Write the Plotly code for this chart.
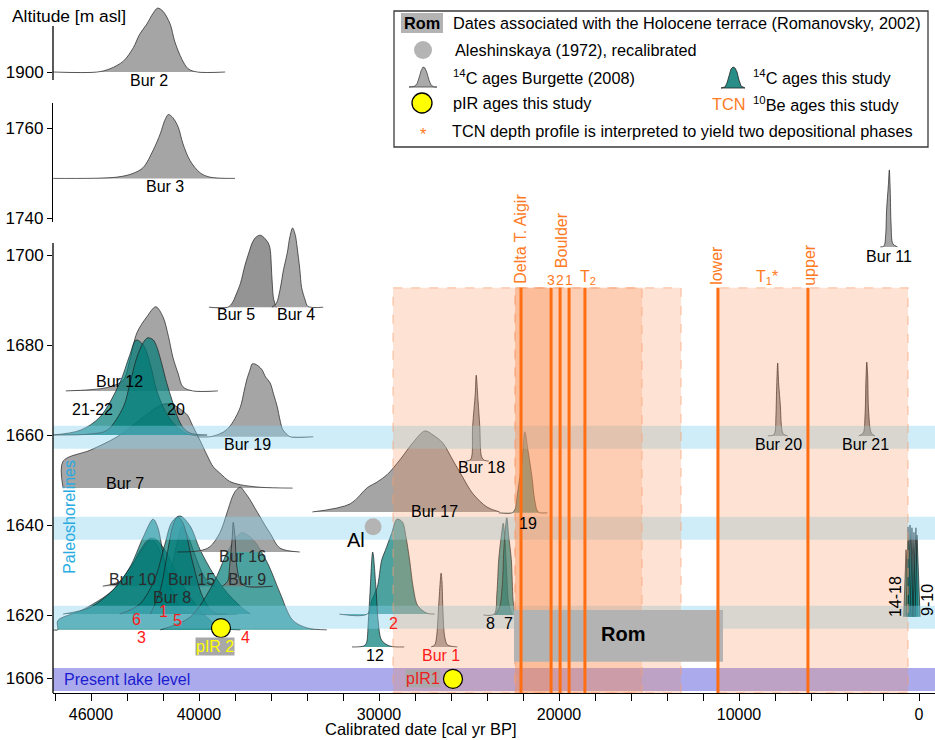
import plotly.graph_objects as go

# ---------------------------------------------------------------
# Calibrated age distributions: age (cal yr BP), relative probability
# (peak = 1) and altitude of the sampled level (m asl)
# ---------------------------------------------------------------

# 14C ages, Burgette (2008)
bur2_age = [48100, 45650, 44950, 44200, 43650, 43300, 42900, 42550, 42300, 42000, 41600, 41350, 40950, 40600, 40100, 38550]
bur2_p = [0, 0, .05, .17, .38, .59, .75, .92, 1, .95, .75, .48, .20, .05, 0, 0]
bur2_alt = 1900.0

bur3_age = [48100, 44550, 43650, 43100, 42550, 42150, 41900, 41700, 41450, 41150, 40900, 40500, 39950, 39400, 38000]
bur3_p = [0, .02, .08, .17, .44, .70, .91, 1, .95, .80, .55, .28, .09, .02, 0]
bur3_alt = 1748.8

bur5_age = [39450, 38400, 38150, 37950, 37700, 37450, 37200, 37050, 36850, 36600, 36400, 36150, 36050, 35950, 35850, 35700]
bur5_p = [0, 0, .06, .17, .33, .58, .78, .89, .97, 1, .97, .89, .81, .42, .11, 0]
bur5_alt = 1688.4

bur4_age = [35950, 35700, 35500, 35300, 35100, 34950, 34800, 34650, 34550, 34400, 34300, 34100, 33950, 33100]
bur4_p = [0, .05, .22, .48, .68, .89, 1, .91, .76, .48, .25, .09, .01, 0]
bur4_alt = 1688.4

bur12_age = [47400, 45100, 44200, 43850, 43450, 42900, 42400, 42000, 41700, 41450, 41150, 40900, 40350, 38950]
bur12_p = [0, .04, .13, .36, .69, .88, 1, .88, .65, .40, .20, .05, 0, 0]
bur12_alt = 1669.8

bur7_age = [47550, 47550, 46050, 44550, 43300, 42350, 41900, 41450, 41050, 40650, 40350, 39950, 39550, 39200, 38850, 38300, 37700, 36600, 34800]
bur7_p = [0, .32, .45, .61, .81, .96, 1, .99, .94, .87, .74, .57, .39, .25, .18, .08, .04, .01, 0]
bur7_alt = 1648.2

bur19_age = [40100, 39400, 38850, 38450, 38100, 37700, 37500, 37350, 37150, 37050, 36900, 36700, 36500, 36300, 36050, 35850, 35650, 35500, 35350, 35100, 34950, 33650]
bur19_p = [0, 0, .04, .10, .21, .41, .62, .78, .93, 1, 1, .97, .92, .82, .74, .58, .41, .23, .10, .03, 0, 0]
bur19_alt = 1659.6

bur17_age = [33700, 31600, 30650, 30100, 29550, 28850, 28100, 27450, 27000, 26450, 25900, 25350, 24800, 24000, 23300]
bur17_p = [0, .10, .30, .37, .46, .64, .86, 1, .95, .85, .64, .43, .23, .06, 0]
bur17_alt = 1642.9

bur18_age = [25150, 24900, 24800, 24650, 24600, 24500, 24400, 24300, 24150, 23900]
bur18_p = [0, .02, .40, .79, 1, .71, .40, .05, .01, 0]
bur18_alt = 1654.2

bur1_age = [27100, 26900, 26800, 26700, 26600, 26550, 26500, 26450, 26350, 26200, 25650]
bur1_p = [0, .03, .14, .50, .88, 1, .88, .50, .14, .03, 0]
bur1_alt = 1612.9

bur16_age = [41200, 39950, 39400, 38850, 38450, 38150, 37950, 37700, 37450, 37150, 36900, 36600, 36350, 36050, 35500, 34400]
bur16_p = [0, .02, .08, .29, .60, .85, .95, 1, .92, .80, .68, .54, .42, .29, .06, 0]
bur16_alt = 1634.0

bur10_age = [45350, 44400, 43850, 43300, 42700, 42300, 41900, 41400, 40950]
bur10_p = [0, .10, .31, .73, 1, .83, .42, .10, 0]
bur10_alt = 1626.4

bur15_age = [42150, 41600, 41200, 40950, 40600, 40200, 39650, 39100]
bur15_p = [0, .25, .75, 1, .83, .50, .13, 0]
bur15_alt = 1626.4

bur9_age = [38700, 38400, 38300, 38150, 38100, 38000, 37900, 37700, 37400, 35900]
bur9_p = [0, .08, .31, .78, 1, .78, .31, .08, 0, 0]
bur9_alt = 1626.4

bur20_age = [8400, 8100, 8000, 7950, 7900, 7850, 7800, 7700, 7650, 7550, 7300]
bur20_p = [0, .01, .05, .26, .73, 1, .73, .41, .16, .03, 0]
bur20_alt = 1659.8

bur21_age = [3350, 3100, 3000, 2950, 2900, 2850, 2800, 2650, 2450]
bur21_p = [0, .04, .27, .74, 1, .81, .34, .04, 0]
bur21_alt = 1659.8

bur11_age = [2150, 1950, 1850, 1800, 1700, 1650, 1600, 1550, 1450, 1200]
bur11_p = [0, .01, .16, .48, .81, 1, .74, .29, .04, 0]
bur11_alt = 1701.8

# 14C ages, this study
s21_22_age = [48100, 46600, 45500, 44400, 43850, 43500, 43100, 42700, 42350, 41900, 41450, 40650, 39550]
s21_22_p = [0, .05, .19, .55, .84, 1, .95, .74, .47, .26, .13, .01, 0]
s21_22_alt = 1660.0

s20_age = [48100, 46050, 45100, 44200, 43850, 43450, 43100, 42850, 42550, 42350, 42050, 41800, 41500, 41200, 40900, 40500, 39550]
s20_p = [0, .01, .05, .29, .52, .80, .95, 1, .98, .91, .72, .54, .36, .19, .08, .02, 0]
s20_alt = 1660.0

s6_age = [47550, 46050, 44800, 43850, 43100, 42550, 42300, 41900, 41450, 40900, 40100, 37850]
s6_p = [0, .07, .25, .49, .81, 1, .92, .54, .22, .04, 0, 0]
s6_alt = 1620.2

s1_age = [44400, 43300, 42450, 41900, 41500, 41050, 40500, 39950, 39200, 38450, 37700, 37150]
s1_p = [0, .10, .36, .71, .94, 1, .90, .66, .41, .22, .08, 0]
s1_alt = 1620.2

s5_age = [42700, 42150, 41700, 41450, 41200, 40900, 40350, 39800, 39200, 38450]
s5_p = [0, .25, .69, .91, 1, .94, .53, .18, .02, 0]
s5_alt = 1620.2

s3_age = [48100, 47850, 47850, 46450, 44800, 43650, 42900, 42550, 42000, 41050, 39950, 38850, 37700]
s3_p = [0, 0, .10, .22, .43, .73, .95, 1, .90, .54, .22, .03, 0]
s3_alt = 1616.7

s4_age = [42150, 40500, 39200, 38450, 37900, 37600, 37000, 36200, 35500, 34800, 34000, 32900]
s4_p = [0, .13, .48, .79, .96, 1, .93, .69, .38, .10, .02, 0]
s4_alt = 1616.7

s2_age = [32200, 30650, 30400, 30100, 29850, 29650, 29300, 29000, 28700, 28500, 28300, 28100, 27850, 27350, 26900]
s2_p = [0, 0, .15, .28, .57, .67, .85, 1, .97, .81, .57, .28, .09, .01, 0]
s2_alt = 1620.2

s12_age = [31500, 30850, 30700, 30600, 30500, 30350, 30150, 30050, 29850, 29400, 28600]
s12_p = [0, .01, .04, .25, .57, 1, .57, .28, .07, .01, 0]
s12_alt = 1612.9

s19_age = [23350, 22600, 22450, 22300, 22050, 21900, 21700, 21500, 21350, 21150, 20650]
s19_p = [0, 0, .04, .25, .65, 1, .74, .44, .16, .01, 0]
s19_alt = 1642.7

s8_age = [24200, 23600, 23450, 23350, 23200, 23100, 23000, 22900, 22800, 22600]
s8_p = [0, .01, .24, .60, .87, 1, .82, .43, .13, 0]
s8_alt = 1620.0

s7_age = [23550, 23300, 23150, 23050, 22900, 22800, 22650, 22550, 22450]
s7_p = [0, .08, .31, .72, 1, .82, .57, .15, 0]
s7_alt = 1620.0

# samples 9-10 and 14-18 (narrow, late Holocene)
spk_start = [850, 720, 610, 500, 390, 330, 220]
spk_peak = [720, 610, 500, 390, 280, 170, 110]
spk_end = [550, 450, 330, 280, 170, 60, -60]
spk_p = [.73, .98, 1, .97, .92, .97, .89]
spk_alt = 1619.6

# Aleshinskaya (1972), recalibrated
al_age, al_alt = [30330], [1639.6]
# pIR ages, this study
pir_age = [38780, 25890]
pir_alt = [1617.1, 1605.8]

# TCN 10Be ages (cal yr BP)
tcn_age = [22110, 20440, 19940, 19440, 18560, 11170, 6170]
# TCN uncertainty envelopes (older, younger)
tcn_env_old = [29220, 22440, 22440, 11170]
tcn_env_young = [13220, 15390, 20440, 610]
# Holocene terrace dates (Romanovsky, 2002)
rom_old, rom_young = 22500, 10890

# paleoshorelines and present lake level (m asl)
shore_alt = [1659.5, 1639.3, 1619.5]
lake_alt = 1605.65

# ---------------------------------------------------------------
W, H = 935, 740
X_OLD, X_YOUNG = 48111, -889          # x-axis range (reversed)
Y_BOT, Y_TOP = 1602.667, 1756.667     # lower panel
ENV_TOP = 1692.7                      # top of the TCN envelopes

GRAY = "rgba(140,140,140,0.78)"
GRAY_D = "rgba(118,118,118,0.78)"
TEAL = "rgba(0,122,118,0.70)"
EDGE = "rgba(25,25,25,0.85)"
ORANGE = "#ff6e12"
ORANGE_T = "#ff7a22"
PEACH = "rgba(250,140,80,0.245)"


def px(x, y):
    return x / W, 1 - y / H


def density(age, p, alt, height, fill, yaxis="y", shape="spline"):
    return go.Scatter(
        x=age, y=[alt + v * height for v in p], yaxis=yaxis, mode="lines",
        fill="toself", fillcolor=fill,
        line=dict(color=EDGE, width=0.8, shape=shape, smoothing=0.9),
        hoverinfo="skip", showlegend=False)


fig = go.Figure()

# Burgette (2008) distributions
for age, p, alt, h, col, ax in [
    (bur2_age, bur2_p, bur2_alt, 14.2, GRAY, "y3"),
    (bur3_age, bur3_p, bur3_alt, 14.2, GRAY, "y2"),
    (bur5_age, bur5_p, bur5_alt, 16.0, GRAY_D, "y"),
    (bur4_age, bur4_p, bur4_alt, 17.6, GRAY, "y"),
    (bur12_age, bur12_p, bur12_alt, 18.7, GRAY, "y"),
    (bur7_age, bur7_p, bur7_alt, 18.7, GRAY, "y"),
    (bur19_age, bur19_p, bur19_alt, 16.2, GRAY, "y"),
    (bur17_age, bur17_p, bur17_alt, 18.0, GRAY, "y"),
    (bur18_age, bur18_p, bur18_alt, 19.1, GRAY, "y"),
    (bur1_age, bur1_p, bur1_alt, 16.4, GRAY, "y"),
    (bur10_age, bur10_p, bur10_alt, 10.7, GRAY, "y"),
    (bur15_age, bur15_p, bur15_alt, 13.3, GRAY, "y"),
    (bur20_age, bur20_p, bur20_alt, 16.2, GRAY, "y"),
    (bur21_age, bur21_p, bur21_alt, 16.4, GRAY_D, "y"),
    (bur11_age, bur11_p, bur11_alt, 17.1, GRAY, "y"),
]:
    fig.add_trace(density(age, p, alt, h, col, ax))

# this study
for age, p, alt, h in [
    (s21_22_age, s21_22_p, s21_22_alt, 21.1),
    (s20_age, s20_p, s20_alt, 21.6),
    (s3_age, s3_p, s3_alt, 20.4),
    (s6_age, s6_p, s6_alt, 21.1),
    (s1_age, s1_p, s1_alt, 21.8),
    (s5_age, s5_p, s5_alt, 21.6),
    (s4_age, s4_p, s4_alt, 21.6),
    (s2_age, s2_p, s2_alt, 21.1),
    (s12_age, s12_p, s12_alt, 21.1),
    (s19_age, s19_p, s19_alt, 18.0),
    (s8_age, s8_p, s8_alt, 20.4),
    (s7_age, s7_p, s7_alt, 21.6),
]:
    fig.add_trace(density(age, p, alt, h, TEAL))

for a0, a1, a2, pk in zip(spk_start, spk_peak, spk_end, spk_p):
    fig.add_trace(density([a0, a1, a2], [0, pk, 0], spk_alt, 20.4, TEAL, shape="linear"))

# Burgette samples drawn over the cluster
fig.add_trace(density(bur16_age, bur16_p, bur16_alt, 14.4, GRAY))
fig.add_trace(density(bur9_age, bur9_p, bur9_alt, 14.2, GRAY_D))

# paleoshoreline bands
for a in shore_alt:
    fig.add_trace(go.Scatter(
        x=[X_OLD, X_YOUNG, X_YOUNG, X_OLD], y=[a - 2.55, a - 2.55, a + 2.55, a + 2.55],
        mode="lines", fill="toself", fillcolor="rgba(135,210,240,0.40)",
        line=dict(width=0), hoverinfo="skip", showlegend=False))

# TCN envelopes
for a0, a1 in zip(tcn_env_old, tcn_env_young):
    fig.add_trace(go.Scatter(
        x=[a0, a1, a1, a0, a0], y=[Y_BOT, Y_BOT, ENV_TOP, ENV_TOP, Y_BOT],
        mode="lines", fill="toself", fillcolor=PEACH,
        line=dict(color="rgba(248,160,115,0.55)", width=1.3, dash="dash"),
        hoverinfo="skip", showlegend=False))

# Romanovsky (2002) box
fig.add_trace(go.Scatter(
    x=[rom_old, rom_young, rom_young, rom_old], y=[1609.6, 1609.6, 1621.1, 1621.1],
    mode="lines", fill="toself", fillcolor="rgb(179,179,179)", line=dict(width=0),
    hoverinfo="skip", showlegend=False))

# TCN ages
for a in tcn_age:
    fig.add_trace(go.Scatter(x=[a, a], y=[Y_BOT, ENV_TOP], mode="lines",
                             line=dict(color=ORANGE, width=3), hoverinfo="skip", showlegend=False))

# Aleshinskaya point and pIR ages
fig.add_trace(go.Scatter(x=al_age, y=al_alt, mode="markers",
                         marker=dict(size=17, color="#b4b4b4"), hoverinfo="skip", showlegend=False))
fig.add_trace(go.Scatter(x=pir_age, y=pir_alt, mode="markers",
                         marker=dict(size=19, color="#ffff00", line=dict(color="black", width=1.2)),
                         hoverinfo="skip", showlegend=False))

# ---------------- annotations ----------------
ann = []


def lab(text, x, y, yref="y", color="black", size=16, angle=0, **kw):
    d = dict(text=text, x=x, y=y, xref="x", yref=yref, showarrow=False,
             font=dict(color=color, size=size), textangle=angle,
             xanchor="center", yanchor="middle")
    d.update(kw)
    ann.append(d)


lab("Bur 2", 42780, 1898.1, yref="y3")
lab("Bur 3", 41890, 1747.1, yref="y2")
for t, x, y in [("Bur 5", 37940, 1686.7), ("Bur 4", 34610, 1686.7), ("Bur 12", 44390, 1671.8),
                ("21-22", 45940, 1665.6), ("20", 41280, 1665.6), ("Bur 19", 37280, 1657.8),
                ("Bur 7", 44110, 1649.3), ("Bur 17", 26940, 1642.9), ("Bur 18", 24330, 1652.7),
                ("19", 21720, 1640.4), ("12", 30220, 1610.9), ("8", 23780, 1618.2), ("7", 22830, 1618.2),
                ("Bur 20", 7830, 1657.8), ("Bur 21", 3000, 1657.8), ("Bur 11", 1670, 1699.6)]:
    lab(t, x, y)
for t, x, y in [("Bur 16", 37560, 1632.9), ("Bur 10", 43720, 1627.8), ("Bur 15", 40390, 1627.8),
                ("Bur 9", 37330, 1627.8), ("Bur 8", 41500, 1623.8)]:
    lab(t, x, y, color="#2b2b2b")
for t, x, y in [("6", 43500, 1618.9), ("1", 42000, 1620.7), ("5", 41170, 1618.7), ("3", 43170, 1615.1),
                ("4", 37390, 1615.1), ("2", 29170, 1618.2), ("Bur 1", 26560, 1610.9)]:
    lab(t, x, y, color="#ff1a1a")
lab("Al", 31280, 1636.7, size=20)
lab("pIR 2", 39110, 1612.9, color="#ffff00", bgcolor="#a8a8a8", borderpad=0)
lab("pIR1", 27560, 1605.8, color="#ee2020", bgcolor="rgba(168,168,168,0.9)", borderpad=0)
lab("<b>Rom</b>", 16440, 1615.8, size=20)
lab("Present lake level", 47610, 1605.6, color="#1c1cd0", xanchor="left")
lab("Paleoshorelines", 47170, 1641.8, color="#29abe2", angle=-90)
lab("14-18", 1330, 1624.0, angle=-90)
lab("9-10", -430, 1623.3, angle=-90)

lab("Delta T. Aigir", 22110, 1703.6, color=ORANGE_T, angle=-90)
lab("Boulder", 19890, 1703.3, color=ORANGE_T, angle=-90)
for t, x in zip(["3", "2", "1"], tcn_age[1:4]):
    lab(t, x, 1694.4, color=ORANGE_T, size=14)
lab("T<sub>2</sub>", 18390, 1694.9, color=ORANGE_T)
lab("lower", 11220, 1697.6, color=ORANGE_T, angle=-90)
lab("upper", 6060, 1697.8, color=ORANGE_T, angle=-90)
lab("T<sub>1</sub>*", 8440, 1695.1, color=ORANGE_T)


def note(text, x, y, color="black", size=16.3, xanchor="left"):
    xp, yp = px(x, y)
    ann.append(dict(text=text, x=xp, y=yp, xref="paper", yref="paper", showarrow=False,
                    font=dict(color=color, size=size), xanchor=xanchor, yanchor="middle"))


note("Altitude [m asl]", 10, 16, size=17.4)
note("Calibrated date [cal yr BP]", 421, 729, size=16.5, xanchor="center")

# legend texts
note("<b>Rom</b>", 422, 23, xanchor="center")
note("Dates associated with the Holocene terrace (Romanovsky, 2002)", 451, 23)
note("Aleshinskaya (1972), recalibrated", 453, 50)
note("<sup>14</sup>C ages Burgette (2008)", 451, 77)
note("<sup>14</sup>C ages this study", 751, 77)
note("pIR ages this study", 451, 103)
note("TCN", 710, 104, color=ORANGE_T)
note("<sup>10</sup>Be ages this study", 751, 104)
note("*", 423, 134, color=ORANGE_T, xanchor="center")
note("TCN depth profile is interpreted to yield two depositional phases", 450, 131)


def rect_px(x0, y0, x1, y1, **kw):
    a0, b0 = px(x0, y0)
    a1, b1 = px(x1, y1)
    d = dict(type="rect", xref="paper", yref="paper", x0=a0, y0=b1, x1=a1, y1=b0)
    d.update(kw)
    return d


def circle_px(cx, cy, r, **kw):
    a0, b0 = px(cx - r, cy + r)
    a1, b1 = px(cx + r, cy - r)
    d = dict(type="circle", xref="paper", yref="paper", x0=a0, y0=b0, x1=a1, y1=b1)
    d.update(kw)
    return d


def path_px(pts, **kw):
    s = ""
    for i, (x, y) in enumerate(pts):
        a, b = px(x, y)
        s += ("M" if i == 0 else "L") + f"{a:.5f},{b:.5f} "
    d = dict(type="path", xref="paper", yref="paper", path=s + "Z")
    d.update(kw)
    return d


shapes = [
    # present lake level
    dict(type="rect", xref="x domain", yref="y", x0=0, x1=1, y0=lake_alt - 2.55, y1=lake_alt + 2.55,
         fillcolor="rgb(170,170,236)", line=dict(width=0), layer="below"),
    # broken altitude axis: lower and upper segments
    dict(type="line", xref="x domain", yref="y", x0=0, x1=0, y0=Y_BOT, y1=1702.667,
         line=dict(color="black", width=1.3)),
    dict(type="line", xref="x domain", yref="y3", x0=0, x1=0, y0=1898.222, y1=1910.222,
         line=dict(color="black", width=1.3)),
    # legend frame
    rect_px(394, 11, 928, 147, line=dict(color="#3a3a3a", width=1.3), fillcolor="white"),
    rect_px(401, 13, 443, 33, line=dict(width=0), fillcolor="rgb(179,179,179)"),
    circle_px(423, 50, 9, line=dict(width=0), fillcolor="#b4b4b4"),
    path_px([(409, 87), (414, 86.5), (417, 84), (419, 78), (421, 71), (423, 67), (425, 68),
             (427, 73), (429, 80), (431, 85), (434, 87), (437, 87)],
            line=dict(color="#444", width=0.8), fillcolor="rgb(170,170,170)"),
    path_px([(721, 88), (725, 87), (727, 83), (729, 76), (731, 69), (733, 67), (735, 68),
             (737, 72), (739, 80), (741, 86), (745, 88)],
            line=dict(color="#222", width=0.8), fillcolor="rgb(40,140,135)"),
    circle_px(422, 103, 10, line=dict(color="black", width=1.3), fillcolor="#ffff00"),
]

tick_vals = list(range(0, 48001, 2000))
tick_text = [str(v) if v in (46000, 40000, 30000, 20000, 10000, 0) else "" for v in tick_vals]

axis_common = dict(showgrid=False, zeroline=False, ticks="outside", tickcolor="black", tickwidth=1.3)
ytick_font = dict(size=17, color="black")

fig.update_layout(
    width=W, height=H, margin=dict(l=0, r=0, t=0, b=0),
    template="none", paper_bgcolor="white", plot_bgcolor="rgba(0,0,0,0)",
    showlegend=False,
    font=dict(family="Liberation Sans, Arial, sans-serif", size=16, color="black"),
    xaxis=dict(domain=[53 / W, 1], range=[X_OLD, X_YOUNG], anchor="y",
               showline=True, linecolor="black", linewidth=1.3, ticklen=7,
               tickvals=tick_vals, ticktext=tick_text, tickfont=dict(size=16, color="black"),
               **axis_common),
    yaxis=dict(domain=[1 - 693 / H, 1], range=[Y_BOT, Y_TOP], anchor="x", showline=False,
               ticklen=5, tickvals=[1606, 1620, 1640, 1660, 1680, 1700], tickfont=ytick_font,
               **axis_common),
    yaxis2=dict(domain=[1 - 222 / H, 1 - 103 / H], range=[1739.111, 1765.556], anchor="x",
                showline=True, linecolor="black", linewidth=1.3,
                ticklen=5, tickvals=[1740, 1760], tickfont=ytick_font, **axis_common),
    yaxis3=dict(domain=[1 - 92 / H, 1], range=[1895.556, 1916.0], anchor="x", showline=False,
                ticklen=5, tickvals=[1900], tickfont=ytick_font, **axis_common),
    shapes=shapes,
    annotations=ann,
)

fig.write_html("out.html")
